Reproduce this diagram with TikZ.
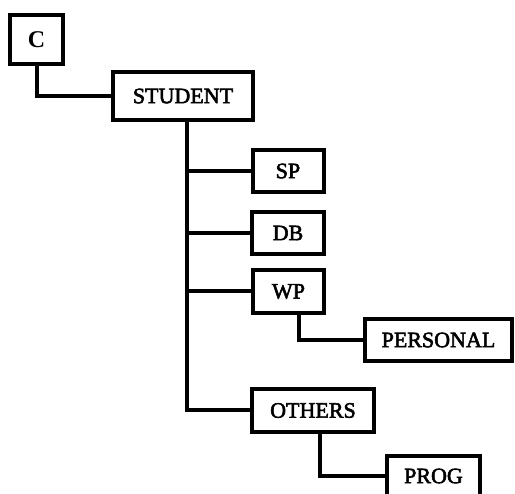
\documentclass[tikz,border=0pt]{standalone}
\usepackage{fontspec}
\setmainfont{Liberation Serif}
\newfontfamily\boxfont{Liberation Serif}[FakeBold=2.5]
\begin{document}
\begin{tikzpicture}[x=1pt,y=-1pt,line width=4pt,
  box/.style = {draw, rectangle, inner sep=0pt, minimum height=42pt, font=\boxfont\fontsize{22}{24}\selectfont}]
\clip (0,0) rectangle (515,494);

\node[box, minimum width=53pt, minimum height=49pt, font=\fontsize{24}{26}\selectfont\bfseries] (1) at (36.5,39.5) {C};
\node[box, minimum width=140pt, minimum height=48pt] (2) at (183,96) {STUDENT};
\node[box, minimum width=71pt] (3) at (288,171) {SP};
\node[box, minimum width=72pt] (4) at (288,233) {DB};
\node[box, minimum width=71pt, minimum height=43pt] (5) at (288.5,291.5) {WP};
\node[box, minimum width=147pt] (6) at (438.5,340) {PERSONAL};
\node[box, minimum width=122pt, minimum height=43pt] (7) at (313,410.5) {OTHERS};
\node[box, minimum width=93pt, minimum height=40pt] (8) at (433.5,476) {PROG};

\draw (1.south) |- (2.west);
\draw ([xshift=4]2.south) |- (3.west);
\draw ([xshift=4]2.south) |- (4.west);
\draw ([xshift=4]2.south) |- (5.west);
\draw ([xshift=4]2.south) |- (7.west);
\draw ([xshift=10]5.south) |- (6.west);
\draw ([xshift=7]7.south) |- (8.west);

\end{tikzpicture}
\end{document}
